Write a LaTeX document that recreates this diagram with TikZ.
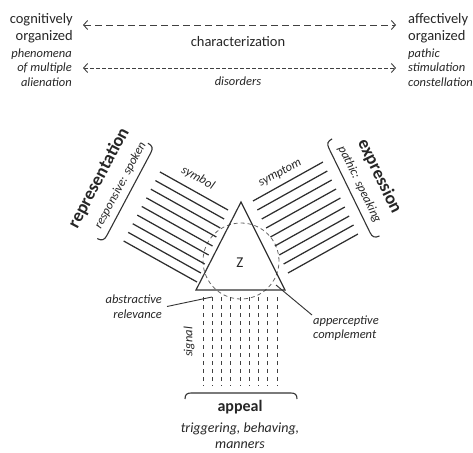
\documentclass[tikz,border=0pt]{standalone}
\usepackage{fontspec}
\setmainfont{Carlito}
\usetikzlibrary{arrows.meta,calc}
\begin{document}
\begin{tikzpicture}[x=1pt,y=1pt,
  every node/.style={inner sep=0pt, text=black!85},
  reg/.style={font=\fontsize{14.5}{17}\selectfont},
  itl/.style={font=\fontsize{12.5}{14.5}\selectfont\itshape},
  head/.style={font=\fontsize{18}{20}\selectfont\bfseries},
  ink/.style={draw=black!80, line width=1.2pt},
  thinline/.style={draw=black!80, line width=0.9pt},
  hatch/.style={draw=black!82, line width=1.25pt},
  signalline/.style={draw=black!75, line width=1pt, dash pattern=on 3.5pt off 4.5pt},
  bracket/.style={draw=black!80, line width=1.1pt},
  duplex/.style={draw=black!75, line width=0.9pt,
    {Straight Barb[length=4pt,width=9pt]}-{Straight Barb[length=4pt,width=9pt]}},
]
\useasboundingbox (0,0) rectangle (473,-452);

% --- top: the two poles and the arrows between them
\node[reg, align=right, anchor=east] (cog) at (73,-28.5) {cognitively\\organized};
\node[itl, align=right, anchor=east] (phen) at (72,-67.5) {phenomena\\of multiple\\alienation};
\node[reg, align=left, anchor=west] (aff) at (408,-28.5) {affectively\\organized};
\node[itl, align=left, anchor=west] (path) at (408,-67.5) {pathic\\stimulation\\constellations};

\coordinate (charL) at (83,-25);
\coordinate (charR) at (396,-25);
\coordinate (disL) at (83,-68);
\coordinate (disR) at (396,-68);
\draw[duplex, dash pattern=on 7pt off 4pt] (charL) -- (charR);
\draw[duplex, dash pattern=on 4pt off 2pt] (disL) -- (disR);
\node[reg] (char) at (238,-42) {characterization};
\node[itl] (dis) at (238,-81) {disorders};

% --- the organon: triangle and circle
\coordinate (apex) at (241,-202);
\coordinate (bl) at (196,-290);
\coordinate (br) at (285,-290);
\draw[black!60, line width=0.8pt, dash pattern=on 4pt off 3pt] (241,-261) circle (38);
\draw[ink, line join=miter] (apex) -- (bl) -- (br) -- cycle;
\node[font=\fontsize{15}{15}\selectfont] (z) at (240,-263) {Z};

% --- symbol hatching (left)
\foreach \i in {0,...,8}{
  \pgfmathsetmacro\t{\i/8}
  \pgfmathsetmacro\len{78+6*\t}
  \draw[hatch] ($(228,-210)!\t!(197,-282)$) -- ++({-0.873*\len},{0.488*\len});
}
% --- symptom hatching (right)
\foreach \i in {0,...,8}{
  \pgfmathsetmacro\t{\i/8}
  \draw[hatch] ($(253,-201)!\t!(288,-273)$) -- ++({0.874*80},{0.487*80});
}
% --- signal hatching (below)
\foreach \i in {0,...,8}{
  \draw[signalline] ({203+9.25*\i},-297) -- ({203+9.25*\i},-386);
}

\node[itl, rotate=-29] (symbol) at (198,-178) {symbol};
\node[itl, rotate=29] (symptom) at (280,-173) {symptom};
\node[itl, rotate=90] (signal) at (189,-342) {signal};

% --- brackets with their functions
\begin{scope}[shift={(128.8,-194.2)}, rotate=-28]
  \draw[bracket] (-7,54) .. controls (-2,54) and (0,52) .. (0,47) -- (0,-47)
    .. controls (0,-52) and (-2,-54) .. (-7,-54);
\end{scope}
\begin{scope}[shift={(349.5,-190.5)}, rotate=26]
  \draw[bracket] (7,54) .. controls (2,54) and (0,52) .. (0,47) -- (0,-47)
    .. controls (0,-52) and (2,-54) .. (7,-54);
\end{scope}
\draw[bracket] (185,-399) .. controls (185,-394.5) and (187,-393) .. (191,-393)
  -- (291,-393) .. controls (295,-393) and (297,-394.5) .. (297,-399);

\node[head, rotate=62] (repr) at (99,-178) {representation};
\node[itl, rotate=62] (reprsub) at (120.5,-185.5) {responsive: spoken};
\node[head, rotate=-64] (expr) at (379.5,-176.5) {expression};
\node[itl, rotate=-64] (exprsub) at (359.5,-184.5) {pathic: speaking};
\node[head, font=\fontsize{16}{18}\selectfont\bfseries] (appeal) at (240,-407) {appeal};
\node[itl, align=center, font=\fontsize{14}{15.5}\selectfont\itshape] (appsub) at (240,-435.5) {triggering, behaving,\\manners};

% --- pointers
\node[itl, align=right, anchor=east] (abs) at (162,-306.5) {abstractive\\relevance};
\coordinate (absend) at (212,-297);
\draw[thinline] ([xshift=5pt]abs.east) -- (absend);
\node[itl, align=left, anchor=west] (app) at (313,-328) {apperceptive\\complement};
\coordinate (appstart) at (276,-285);
\coordinate (apptail) at (312,-315);
\draw[thinline] (appstart) -- (apptail);
\end{tikzpicture}
\end{document}
